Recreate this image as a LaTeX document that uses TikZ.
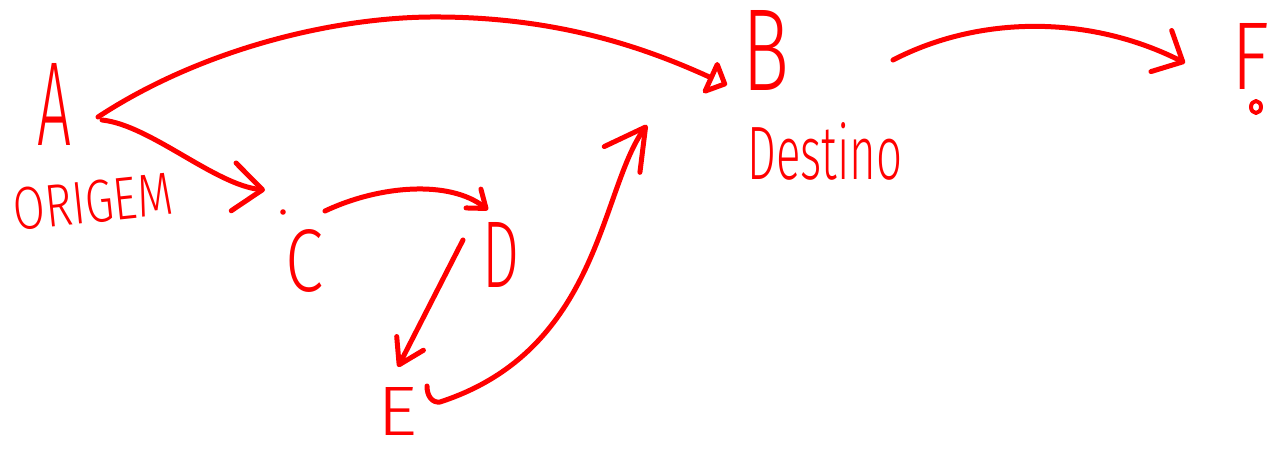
\documentclass[tikz,border=0pt]{standalone}
\usepackage{fontspec}
\usepackage{graphicx}
\newfontfamily\hand{Fira Sans}[UprightFont={* Light}]
\usetikzlibrary{arrows.meta}
\tikzset{
  ink/.style={draw=red, line width=2.5pt, line cap=round, line join=round},
  letter/.style={text=red, inner sep=0pt, font=\hand},
}
\newcommand{\hw}[3]{\resizebox{#1}{#2}{#3}}
\begin{document}
\begin{tikzpicture}[x=0.5pt,y=-0.5pt]
\useasboundingbox (0,0) rectangle (1276,455);
% letters
\node[letter] (A) at (55,104) {\hw{17pt}{41pt}{A}};
\node[letter, rotate=6] (origem) at (93,202) {\hw{80pt}{21pt}{ORIGEM}};
\node[letter] (B) at (766,50) {\hw{23.5pt}{40pt}{B}};
\node[letter] (destino) at (825,151) {\hw{77.5pt}{28.5pt}{Destino}};
\node[letter] (C) at (304,261) {\hw{19pt}{31pt}{C}};
\node[letter] (D) at (501,255) {\hw{18.5pt}{32.5pt}{D}};
\node[letter] (E) at (397,411) {\hw{20pt}{24pt}{E}};
\node[letter] (F) at (1250,56) {\hw{19pt}{33pt}{F}};
% small marks
\fill[red] (283,212) circle[radius=1.4pt];
\draw[ink, line width=2pt] (1256,107) ellipse[x radius=2.5pt, y radius=3pt];
% connector end points
\coordinate (aC0) at (102,120);
\coordinate (aC1) at (265,190);
\coordinate (aB0) at (98,117);
\coordinate (aB1) at (727,85);
\coordinate (cD0) at (325,211);
\coordinate (cD1) at (488,210);
\coordinate (dE0) at (463,240);
\coordinate (dE1) at (398,367);
\coordinate (eB0) at (427,386);
\coordinate (eB1) at (647,125);
\coordinate (bF0) at (893,60);
\coordinate (bF1) at (1185,63);
% connectors
\draw[ink, -{Straight Barb[length=14.5pt,width=24pt,round]}]
  (aC0) .. controls (150,125) and (215,185) .. (aC1);
\draw[ink, -{Triangle[open,length=10.5pt,width=20pt,round]}]
  (aB0) .. controls (200,50) and (330,18) .. (430,17)
        .. controls (560,16) and (650,50) .. (aB1);
\draw[ink, -{Straight Barb[length=8pt,width=12pt,round]}]
  (cD0) .. controls (380,185) and (450,180) .. (cD1);
\draw[ink, -{Straight Barb[length=12pt,width=15pt,round]}]
  (dE0) -- (dE1);
\draw[ink, -{Straight Barb[length=20pt,width=22pt,round]}]
  (eB0) .. controls (427,396) and (432,403) .. (440,402)
        .. controls (600,350) and (600,190) .. (eB1);
\draw[ink, -{Straight Barb[length=12pt,width=23pt,round]}]
  (bF0) .. controls (980,15) and (1090,15) .. (bF1);
\end{tikzpicture}
\end{document}
